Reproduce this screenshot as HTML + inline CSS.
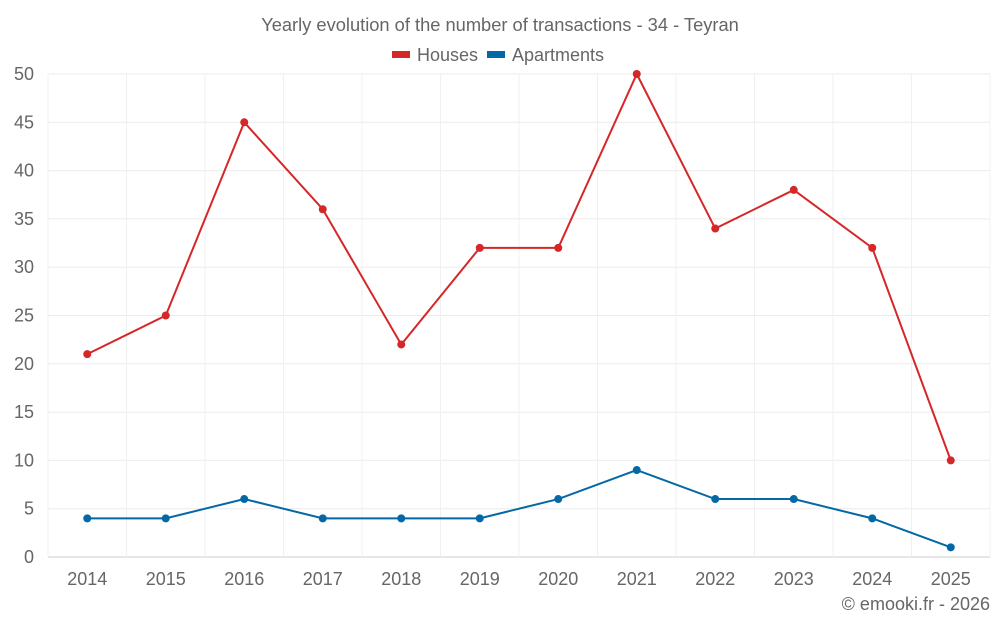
<!DOCTYPE html>
<html><head><meta charset="utf-8">
<style>
body{margin:0;background:#fff;font-family:"Liberation Sans",sans-serif;}
svg text{font-family:"Liberation Sans",sans-serif;fill:#666;}
</style></head>
<body>
<svg id="chart" width="1000" height="625" viewBox="0 0 1000 625" xmlns="http://www.w3.org/2000/svg">
<text x="500" y="31" text-anchor="middle" font-size="18.3">Yearly evolution of the number of transactions - 34 - Teyran</text>
<g>
<g><rect x="392" y="51" width="18" height="7" fill="#d62728"/><text x="417" y="61" font-size="18">Houses</text></g>
<g><rect x="487" y="51" width="18" height="7" fill="#0568a6"/><text x="512" y="61" font-size="18">Apartments</text></g>
</g>
<g id="grid"></g>
<g id="axes"></g>
<g id="series"></g>
<text x="990" y="610" text-anchor="end" font-size="18">© emooki.fr - 2026</text>
</svg>
<script>
const categories=["2014","2015","2016","2017","2018","2019","2020","2021","2022","2023","2024","2025"];
const houses=[21,25,45,36,22,32,32,50,34,38,32,10];
const apartments=[4,4,6,4,4,4,6,9,6,6,4,1];
const yTicks=[0,5,10,15,20,25,30,35,40,45,50];
const NS="http://www.w3.org/2000/svg";
const L=48,R=990,T=74,B=557,yMax=50;
const bw=(R-L)/categories.length;
function x(i){return L+bw*(i+0.5);}
function y(v){return B-(v/yMax)*(B-T);}
function mk(tag,attrs,parent){const e=document.createElementNS(NS,tag);for(const k in attrs)e.setAttribute(k,attrs[k]);parent.appendChild(e);return e;}
const grid=document.getElementById('grid'),axes=document.getElementById('axes'),ser=document.getElementById('series');
yTicks.forEach(t=>{
  const l=mk('line',{x1:L,x2:R,y1:y(t),y2:y(t),stroke:t===0?'#ccc':'#ebebeb','stroke-width':1},grid);
  
  
  const tx=mk('text',{x:34,y:y(t)+6,'text-anchor':'end','font-size':18},axes);
  tx.textContent=t;
  
  
});
for(let i=0;i<=categories.length;i++){
  const l=mk('line',{x1:L+bw*i,x2:L+bw*i,y1:T,y2:B,stroke:'#f0f0f0','stroke-width':1},grid);
  
  
}
categories.forEach((c,i)=>{
  const tx=mk('text',{x:x(i),y:585,'text-anchor':'middle','font-size':18},axes);
  tx.textContent=c;
  
  
});
function draw(vals,color,name){
  const p=mk('polyline',{points:vals.map((v,i)=>x(i)+','+y(v)).join(' '),fill:'none',stroke:color,'stroke-width':2},ser);
  
  
  vals.forEach((v,i)=>{
    const c=mk('circle',{cx:x(i),cy:y(v),r:4,fill:color},ser);
    
    
  });
}
draw(houses,'#d62728','houses');
draw(apartments,'#0568a6','apartments');
</script>
</body></html>
